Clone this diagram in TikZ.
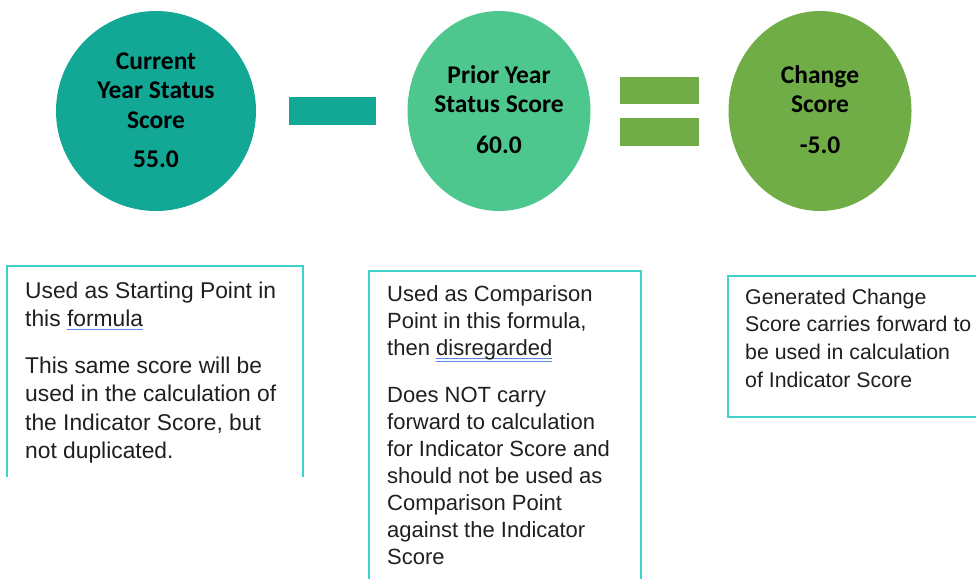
\documentclass[tikz,border=0pt]{standalone}
\usepackage{fontspec}
\setmainfont{Liberation Sans}
\newfontfamily\circfont{Carlito}
\usetikzlibrary{shapes.geometric}
\definecolor{cteal}{HTML}{13A896}
\definecolor{cmint}{HTML}{4EC78E}
\definecolor{cgreen}{HTML}{70AD47}
\definecolor{cframe}{HTML}{3FD0CB}
\definecolor{culine}{HTML}{5B86E5}
\newcommand\bluul[1]{\setbox0\hbox{#1}\rlap{\color{culine}\rule[-3.5pt]{\wd0}{1.3pt}}\box0}
\newcommand\bluuul[1]{\setbox0\hbox{#1}\rlap{\color{culine}\rule[-3pt]{\wd0}{1pt}}\rlap{\color{culine}\rule[-6pt]{\wd0}{1pt}}\box0}
\begin{document}
\begin{tikzpicture}[x=1pt,y=-1pt,
  disc/.style={circle,minimum size=200pt,inner sep=0pt},
  oval/.style={ellipse,minimum width=183pt,minimum height=200pt,inner sep=0pt},
  bar/.style={inner sep=0pt},
  ctext/.style={anchor=base,inner sep=0pt,font=\circfont\bfseries\fontsize{25.5}{29}\selectfont,text=black},
  btext/.style={anchor=base west,inner sep=0pt,text=black!88},
  frame/.style={draw=cframe,line width=2.5pt}]
\useasboundingbox (0,0) rectangle (976,578);
% circles
\node[disc,fill=cteal] (cur) at (156,111) {};
\node[oval,fill=cmint] (pri) at (499,111) {};
\node[oval,fill=cgreen] (chg) at (820,111) {};
% operators
\node[bar,fill=cteal,minimum width=87pt,minimum height=28pt] (minus) at (332.5,111) {};
\node[bar,fill=cgreen,minimum width=79pt,minimum height=27pt] (eqa) at (659.5,90.5) {};
\node[bar,fill=cgreen,minimum width=79pt,minimum height=28pt] (eqb) at (659.5,132) {};
% circle texts
\node[ctext] (curt) at (156,69) {\vtop{\baselineskip=29.5pt\halign{\hfil#\hfil\cr Current\cr Year Status\cr Score\cr\noalign{\vskip 9.5pt}55.0\cr}}};
\node[ctext] (prit) at (499,83) {\vtop{\baselineskip=29pt\halign{\hfil#\hfil\cr Prior Year\cr Status Score\cr\noalign{\vskip 12pt}60.0\cr}}};
\node[ctext] (chgt) at (820,83) {\vtop{\baselineskip=29pt\halign{\hfil#\hfil\cr Change\cr Score\cr\noalign{\vskip 12pt}-5.0\cr}}};
% frames
\draw[frame] (7,477) -- (7,266) -- (303,266) -- (303,477);
\draw[frame] (369,580) -- (369,271) -- (641,271) -- (641,580);
\draw[frame] (980,276) -- (728,276) -- (728,417) -- (980,417);
% frame texts
\node[btext,font=\fontsize{22.8}{28.3}\selectfont] (t1) at (25,298) {\vtop{\baselineskip=28.3pt\halign{#\hfil\cr Used as Starting Point in\cr this \bluul{formula}\cr\noalign{\vskip 19pt}This same score will be\cr used in the calculation of\cr the Indicator Score, but\cr not duplicated.\cr}}};
\node[btext,font=\fontsize{22}{27}\selectfont] (t2) at (387,301.5) {\vtop{\baselineskip=27pt\halign{#\hfil\cr Used as Comparison\cr Point in this formula,\cr then \bluuul{disregarded}\cr\noalign{\vskip 19.7pt}Does NOT carry\cr forward to calculation\cr for Indicator Score and\cr should not be used as\cr Comparison Point\cr against the Indicator\cr Score\cr}}};
\node[btext,font=\fontsize{21.3}{27.7}\selectfont] (t3) at (745,304) {\vtop{\baselineskip=27.7pt\halign{#\hfil\cr Generated Change\cr Score carries forward to\cr be used in calculation\cr of Indicator Score\cr}}};
\end{tikzpicture}
\end{document}
